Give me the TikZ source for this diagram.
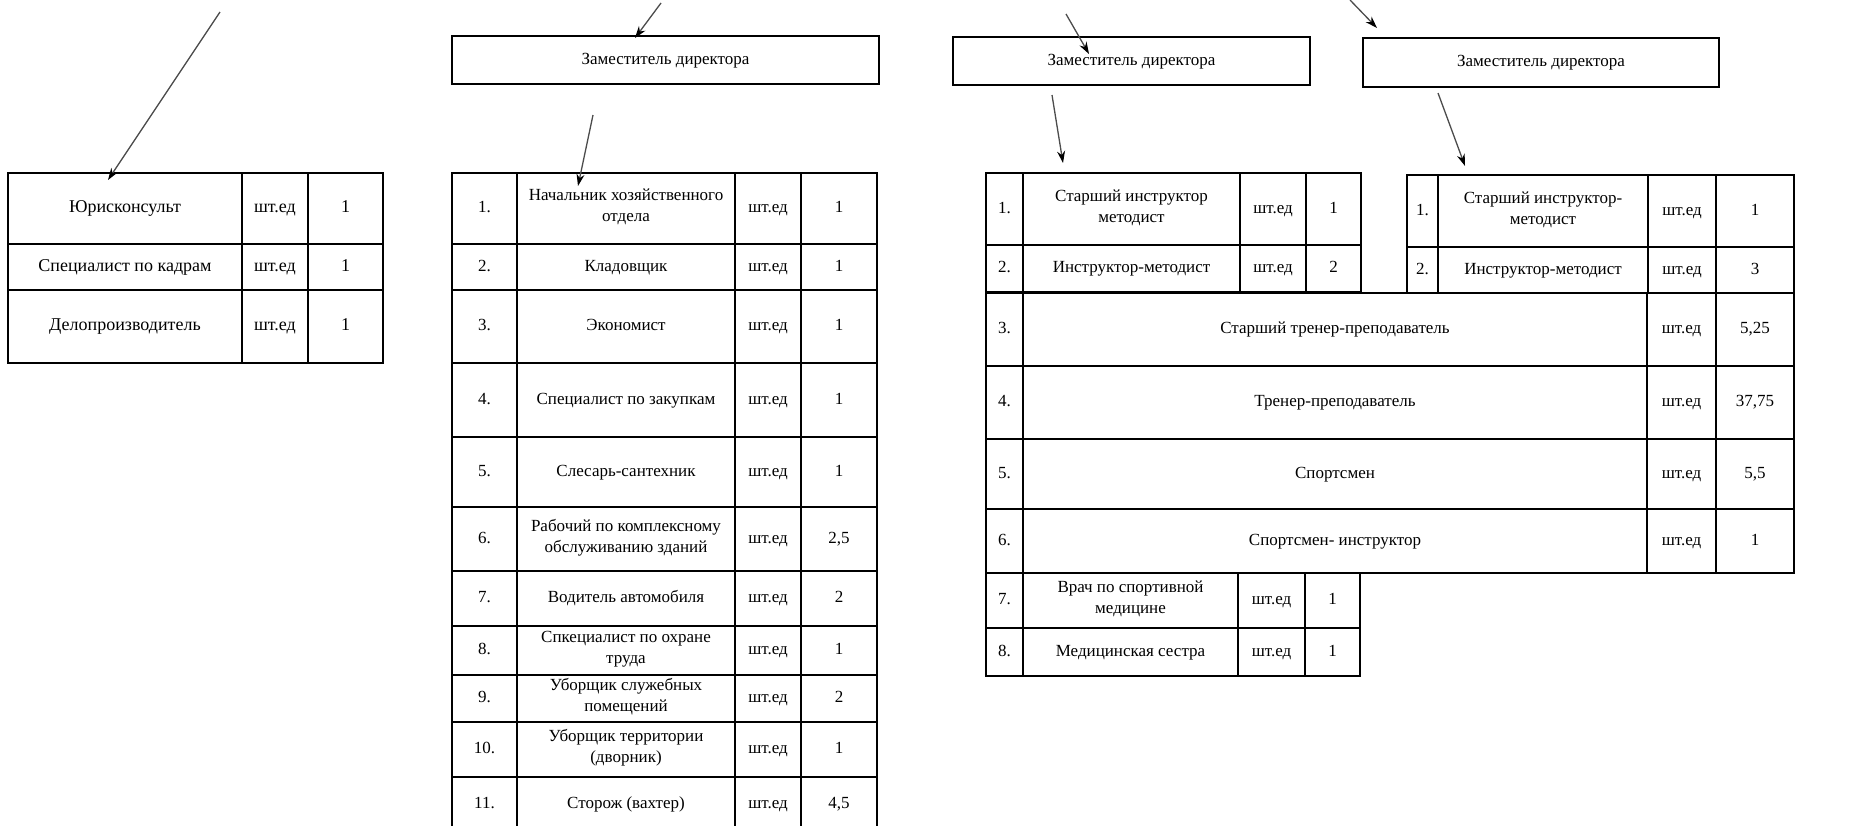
\documentclass[tikz,border=0pt]{standalone}
\usepackage{fontspec}
\setmainfont{Liberation Serif}
\usetikzlibrary{arrows.meta}
\tikzset{
  cell/.style={draw, line width=1.7pt, inner sep=0pt, align=center,
    font=\fontsize{17}{21}\selectfont,
    execute at begin node=\strut, execute at end node=\strut},
  bigcell/.style={cell, font=\fontsize{18}{22}\selectfont},
  zambox/.style={cell, line width=2.8pt},
  link/.style={draw=black!70, line width=1.3pt,
    -{Stealth[length=12pt,width=8pt,black]}},
}
%% one cell: name, x1, y1, x2, y2, text
\newcommand{\cell}[7][cell]{%
  \node[#1, minimum width={(#5-#3)*1pt}, minimum height={(#6-#4)*1pt}]
    (#2) at ({(#3+#5)/2},{(#4+#6)/2}) {#7};}
%% one row with number, name, unit, value: name, y1, y2, number, text, value
\newcommand{\trow}[6]{%
  \cell{#1n}{\ca}{#2}{\cb}{#3}{#4}
  \cell{#1t}{\cb}{#2}{\cc}{#3}{#5}
  \cell{#1u}{\cc}{#2}{\cd}{#3}{шт.ед}
  \cell{#1v}{\cd}{#2}{\ce}{#3}{#6}}
\newcommand{\setcols}[5]{\def\ca{#1}\def\cb{#2}\def\cc{#3}\def\cd{#4}\def\ce{#5}}
\begin{document}
\begin{tikzpicture}[x=1pt,y=-1pt]
  \useasboundingbox (0,0) rectangle (1856,825);
  \clip (0,0) rectangle (1856,825);
  %% deputy boxes
  \cell[zambox]{zamA}{452}{36}{879}{84}{Заместитель директора}
  \cell[zambox]{zamB}{953}{37}{1310}{85}{Заместитель директора}
  \cell[zambox]{zamC}{1363}{38}{1719}{87}{Заместитель директора}
  %% left table
  \cell[bigcell]{jur}{8}{173}{242}{244}{Юрисконсульт}
  \cell[bigcell]{juru}{242}{173}{308}{244}{шт.ед}
  \cell[bigcell]{jurv}{308}{173}{383}{244}{1}
  \cell[bigcell]{kad}{8}{244}{242}{290}{Специалист по кадрам}
  \cell[bigcell]{kadu}{242}{244}{308}{290}{шт.ед}
  \cell[bigcell]{kadv}{308}{244}{383}{290}{1}
  \cell[bigcell]{del}{8}{290}{242}{363}{Делопроизводитель}
  \cell[bigcell]{delu}{242}{290}{308}{363}{шт.ед}
  \cell[bigcell]{delv}{308}{290}{383}{363}{1}
  %% middle table
  \setcols{452}{517}{735}{801}{877}
  \trow{m1}{173}{244}{1.}{Начальник хозяйственного\\отдела}{1}
  \trow{m2}{244}{290}{2.}{Кладовщик}{1}
  \trow{m3}{290}{363}{3.}{Экономист}{1}
  \trow{m4}{363}{437}{4.}{Специалист по закупкам}{1}
  \trow{m5}{437}{507}{5.}{Слесарь-сантехник}{1}
  \trow{m6}{507}{571}{6.}{Рабочий по комплексному\\обслуживанию зданий}{2,5}
  \trow{m7}{571}{626}{7.}{Водитель автомобиля}{2}
  \trow{m8}{626}{675}{8.}{Спкециалист по охране\\труда}{1}
  \trow{m9}{675}{722}{9.}{Уборщик служебных\\помещений}{2}
  \trow{m10}{722}{777}{10.}{Уборщик территории\\(дворник)}{1}
  \trow{m11}{777}{832}{11.}{Сторож (вахтер)}{4,5}
  %% right tables
  \setcols{986}{1023}{1240}{1306}{1361}
  \trow{r1}{173}{245}{1.}{Старший инструктор\\методист}{1}
  \trow{r2}{245}{292}{2.}{Инструктор-методист}{2}
  \setcols{1407}{1438}{1648}{1716}{1794}
  \trow{s1}{175}{247}{1.}{Старший инструктор-\\методист}{1}
  \trow{s2}{247}{293}{2.}{Инструктор-методист}{3}
  \setcols{986}{1023}{1647}{1716}{1794}
  \trow{w3}{293}{366}{3.}{Старший тренер-преподаватель}{5,25}
  \trow{w4}{366}{439}{4.}{Тренер-преподаватель}{37,75}
  \trow{w5}{439}{509}{5.}{Спортсмен}{5,5}
  \trow{w6}{509}{573}{6.}{Спортсмен- инструктор}{1}
  \setcols{986}{1023}{1238}{1305}{1360}
  \trow{b7}{573}{628}{7.}{Врач по спортивной\\медицине}{1}
  \trow{b8}{628}{676}{8.}{Медицинская сестра}{1}
  %% arrows
  \coordinate (a1s) at (220,12);   \coordinate (a1e) at (108,180);
  \coordinate (a2s) at (661,3);    \coordinate (a2e) at (635,38);
  \coordinate (a3s) at (593,115);  \coordinate (a3e) at (578,186);
  \coordinate (a4s) at (1066,14);  \coordinate (a4e) at (1089,54);
  \coordinate (a5s) at (1052,95);  \coordinate (a5e) at (1063,163);
  \coordinate (a6s) at (1350,0);   \coordinate (a6e) at (1377,28);
  \coordinate (a7s) at (1438,93);  \coordinate (a7e) at (1465,166);
  \foreach \i in {1,...,7}
    \draw[link] (a\i s) -- (a\i e);
\end{tikzpicture}
\end{document}
